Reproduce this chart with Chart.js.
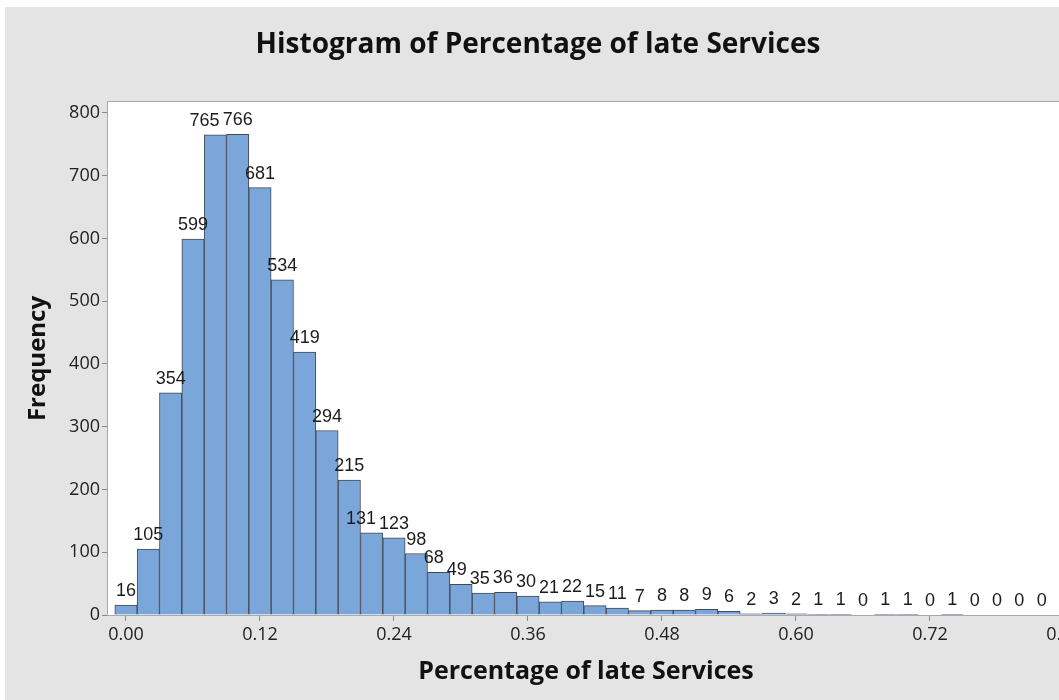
<!DOCTYPE html>
<html>
<head>
<meta charset="utf-8">
<title>Histogram of Percentage of late Services</title>
<script src="https://cdn.jsdelivr.net/npm/chart.js@4.4.1/dist/chart.umd.min.js"></script>
<style>
  html, body { margin: 0; padding: 0; background: #ffffff; overflow: hidden; }
  #wrap { position: absolute; left: 0; top: 0; width: 1076px; height: 700px; }
  canvas { display: block; }
</style>
</head>
<body>
<div id="wrap"><canvas id="hist" width="1076" height="700"></canvas></div>
<script>
// Bin midpoints (share of late services) and the count in each bin
const binMidpoints = [
  0.00, 0.02, 0.04, 0.06, 0.08, 0.10, 0.12, 0.14, 0.16, 0.18,
  0.20, 0.22, 0.24, 0.26, 0.28, 0.30, 0.32, 0.34, 0.36, 0.38,
  0.40, 0.42, 0.44, 0.46, 0.48, 0.50, 0.52, 0.54, 0.56, 0.58,
  0.60, 0.62, 0.64, 0.66, 0.68, 0.70, 0.72, 0.74, 0.76, 0.78,
  0.80, 0.82
];
const frequencies = [
  16, 105, 354, 599, 765, 766, 681, 534, 419, 294,
  215, 131, 123, 98, 68, 49, 35, 36, 30, 21,
  22, 15, 11, 7, 8, 8, 9, 6, 2, 3,
  2, 1, 1, 0, 1, 1, 0, 1, 0, 0,
  0, 0
];
const xTickValues = [0.00, 0.12, 0.24, 0.36, 0.48, 0.60, 0.72, 0.84];
const yTickValues = [0, 100, 200, 300, 400, 500, 600, 700, 800];

const PANEL_GREY = '#e4e4e4';
const FRAME_GREY = '#a9a9a9';
const TICK_GREY = '#8a8a8a';

// Grey panel with white page margin, white plotting area and its frame
const panelPlugin = {
  id: 'panel',
  beforeDraw(chart) {
    const { ctx, width, height, chartArea: a } = chart;
    ctx.save();
    ctx.fillStyle = '#ffffff';
    ctx.fillRect(0, 0, width, height);
    ctx.fillStyle = PANEL_GREY;
    ctx.fillRect(5, 7, width - 5, height - 7);
    ctx.fillStyle = '#ffffff';
    ctx.fillRect(a.left, a.top, a.right - a.left, a.bottom - a.top);
    ctx.restore();
  },
  afterDatasetsDraw(chart) {
    const { ctx, chartArea: a } = chart;
    ctx.save();
    ctx.strokeStyle = FRAME_GREY;
    ctx.lineWidth = 1;
    ctx.strokeRect(a.left - 0.5, a.top - 0.5, a.right - a.left + 1, a.bottom - a.top + 1);
    ctx.restore();
  }
};

// Count printed above every bar; a label that would run into the
// label on its right is pushed left until the two clear each other.
const barValuePlugin = {
  id: 'barValues',
  afterDatasetsDraw(chart) {
    const { ctx } = chart;
    const meta = chart.getDatasetMeta(0);
    const gap = 9, textH = 13, minSpace = 3;
    ctx.save();
    ctx.font = '18px "Liberation Sans", Arial, sans-serif';
    ctx.fillStyle = '#1c1c1c';
    ctx.textAlign = 'center';
    ctx.textBaseline = 'alphabetic';
    const boxes = meta.data.map((bar, i) => {
      const text = String(frequencies[i]);
      const w = ctx.measureText(text).width;
      const base = bar.y - gap;
      return { text, cx: bar.x, w, base, top: base - textH };
    });
    for (let i = boxes.length - 2; i >= 0; i--) {
      const a = boxes[i], b = boxes[i + 1];
      const vOverlap = a.top < b.base && b.top < a.base;
      const aRight = a.cx + a.w / 2, bLeft = b.cx - b.w / 2;
      if (vOverlap && aRight + minSpace > bLeft) {
        a.cx -= aRight + minSpace - bLeft;
      }
    }
    boxes.forEach(bx => ctx.fillText(bx.text, bx.cx, bx.base));
    ctx.restore();
  }
};

new Chart(document.getElementById('hist'), {
  type: 'bar',
  data: {
    datasets: [{
      label: 'Frequency',
      data: binMidpoints.map((m, i) => ({ x: m, y: frequencies[i] })),
      backgroundColor: '#7ba6d9',
      borderColor: '#454a52',
      borderWidth: 1,
      borderSkipped: 'start',
      barPercentage: 1.0,
      categoryPercentage: 1.0
    }]
  },
  options: {
    responsive: false,
    animation: false,
    devicePixelRatio: 1,
    layout: { padding: { left: 12, right: 12, top: 0, bottom: 0 } },
    plugins: {
      legend: { display: false },
      tooltip: { enabled: false },
      title: {
        display: true,
        text: 'Histogram of Percentage of late Services',
        color: '#111111',
        font: { family: '"Open Sans", sans-serif', size: 28, weight: 'bold' },
        padding: { top: 28.5, bottom: 39.9 }
      }
    },
    scales: {
      x: {
        type: 'linear',
        offset: false,
        min: -0.0161,
        max: 0.84,
        afterBuildTicks(scale) {
          scale.ticks = xTickValues.map(v => ({ value: v }));
        },
        afterFit(scale) {
          scale.height = 85;
          scale.paddingLeft = 0;
          scale.paddingRight = 0;
        },
        ticks: {
          autoSkip: false,
          maxRotation: 0,
          padding: 3,
          color: '#222222',
          font: { family: '"Open Sans", sans-serif', size: 18 },
          callback: v => Number(v).toFixed(2)
        },
        grid: {
          display: true,
          offset: false,
          drawOnChartArea: false,
          drawTicks: true,
          tickLength: 6,
          color: TICK_GREY
        },
        border: { display: false },
        title: {
          display: true,
          text: 'Percentage of late Services',
          color: '#111111',
          font: { family: '"Open Sans", sans-serif', size: 25, weight: 'bold' },
          padding: { top: 0, bottom: 13 }
        }
      },
      y: {
        type: 'linear',
        min: 0,
        max: 817.5,
        afterBuildTicks(scale) {
          scale.ticks = yTickValues.map(v => ({ value: v }));
        },
        afterFit(scale) {
          scale.width = 96;
        },
        ticks: {
          padding: 2,
          color: '#222222',
          font: { family: '"Open Sans", sans-serif', size: 18 }
        },
        grid: {
          display: true,
          drawOnChartArea: false,
          drawTicks: true,
          tickLength: 6,
          color: TICK_GREY
        },
        border: { display: false },
        title: {
          display: true,
          text: 'Frequency',
          color: '#111111',
          font: { family: '"Open Sans", sans-serif', size: 24, weight: 'bold' },
          padding: { top: 12, bottom: 0 }
        }
      }
    }
  },
  plugins: [panelPlugin, barValuePlugin]
});
</script>
</body>
</html>
